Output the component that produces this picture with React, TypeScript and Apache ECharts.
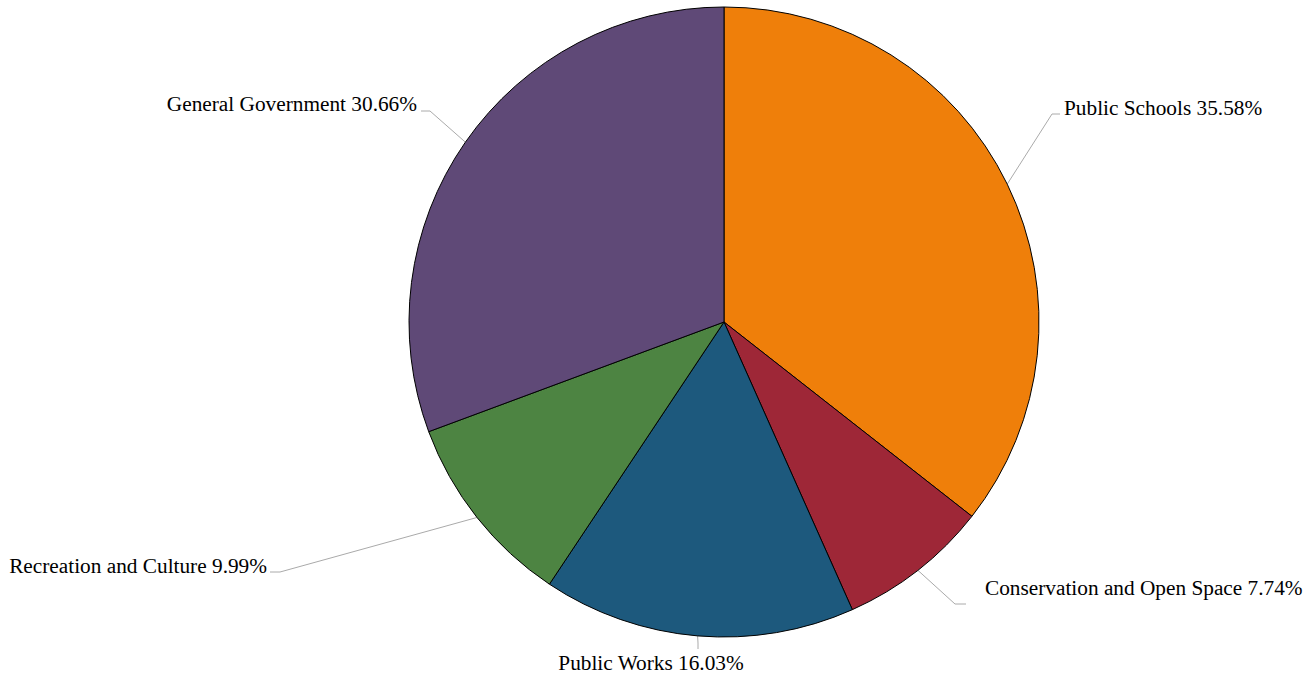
import React, { useEffect, useRef } from "react";
import * as echarts from "echarts";

const categories = [
  "Public Schools",
  "Conservation and Open Space",
  "Public Works",
  "Recreation and Culture",
  "General Government",
];
const values = [35.58, 7.74, 16.03, 9.99, 30.66];
const colors = ["#EF7F0A", "#9E2737", "#1D597D", "#4D8442", "#5F4977"];

// label layout: text anchor (x, y centre), alignment, elbow and end of guide line
const labelAnchors = [
  { x: 1064, y: 108, align: "left", elbow: [1052, 114], end: [1060, 114] },
  { x: 985, y: 588, align: "left", elbow: [955, 604], end: [966, 604] },
  { x: 651, y: 663, align: "center", elbow: [698, 643], end: [698, 649] },
  { x: 267, y: 566, align: "right", elbow: [280, 572], end: [270, 572] },
  { x: 417, y: 104, align: "right", elbow: [430, 111], end: [421, 111] },
];

export default function App() {
  const ref = useRef<HTMLDivElement>(null);
  useEffect(() => {
    if (!ref.current) return;
    const chart = echarts.init(ref.current, null, { renderer: "svg" });
    chart.setOption({
      animation: false,
      series: [
        {
          type: "pie",
          center: [724, 322],
          radius: 315,
          startAngle: 90,
          clockwise: true,
          avoidLabelOverlap: false,
          itemStyle: { borderColor: "#000", borderWidth: 1 },
          emphasis: { disabled: true },
          label: {
            show: true,
            position: "outside",
            color: "#000",
            fontFamily: "Liberation Serif",
            fontSize: 21.3,
            formatter: (p: any) => `${p.name} ${p.value.toFixed(2)}%`,
          },
          labelLine: {
            show: true,
            length: 20,
            length2: 10,
            lineStyle: { color: "#aaa", width: 1 },
          },
          labelLayout: (params: any) => {
            const a = labelAnchors[params.dataIndex];
            const start = params.labelLinePoints
              ? params.labelLinePoints[0]
              : a.elbow;
            return {
              x: a.x,
              y: a.y,
              align: a.align,
              verticalAlign: "middle",
              labelLinePoints: [start, a.elbow, a.end],
            };
          },
          data: categories.map((name, i) => ({
            name,
            value: values[i],
            itemStyle: { color: colors[i] },
          })),
        },
      ],
    });
    return () => chart.dispose();
  }, []);
  return (
    <div
      ref={ref}
      style={{ position: "absolute", left: 0, top: 0, width: 1313, height: 674 }}
    />
  );
}
